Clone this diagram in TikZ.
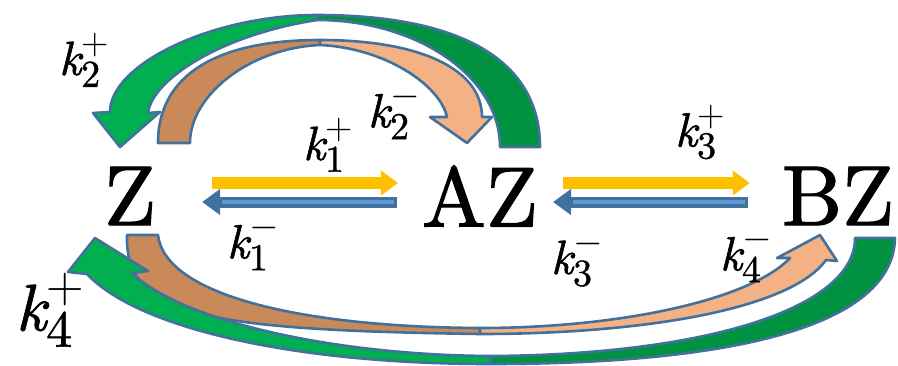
\RequirePackage{fix-cm}
\documentclass[tikz,border=0pt]{standalone}
\usepackage{fontspec}
\usetikzlibrary{arrows.meta,calc}
\newfontfamily\spfont{lmroman10-regular.otf}[FakeBold=1.5]
\newfontfamily\kfont{lmroman10-italic.otf}[FakeBold=1.2]
\newfontfamily\scfont{lmroman10-regular.otf}[FakeBold=1]
\newcommand\rate[3]{$\mbox{\kfont k}^{\mbox{\fontsize{#1}{#1}\scfont$#2$}}_{\mbox{\fontsize{#1}{#1}\scfont #3}}$}
\definecolor{outl}{RGB}{65,113,156}
\definecolor{arrB}{RGB}{91,155,213}
\definecolor{arrY}{RGB}{255,192,0}
\definecolor{glight}{RGB}{0,176,80}
\definecolor{gdark}{RGB}{0,146,64}
\definecolor{obrown}{RGB}{201,137,88}
\definecolor{olight}{RGB}{244,177,131}
\tikzset{
  band/.style={draw=outl, line width=2.6bp, line join=round},
  species/.style={inner sep=0pt, font=\fontsize{85bp}{85bp}\spfont},
  klab/.style={inner sep=0pt, font=\fontsize{48bp}{48bp}\selectfont},
  klabbig/.style={inner sep=0pt, font=\fontsize{66bp}{66bp}\selectfont},
  yarr/.style={draw=arrY, line width=12bp, -{Triangle[length=17bp,width=24bp]}},
  barr/.style={draw=outl, line width=11bp, -{Triangle[length=18bp,width=25bp]}},
  bstripe/.style={draw=arrB, line width=4.5bp},
}
\begin{document}
\begin{tikzpicture}[x=1bp,y=-1bp]
\useasboundingbox (0,0) rectangle (898,365);

% species
\node[species] (Z)  at (130,196) {Z};
\node[species] (AZ) at (480,196) {AZ};
\node[species] (BZ) at (838,196) {BZ};

% top green band (AZ -> Z)
\path[band, fill=gdark] (317,15) .. controls (462,15) and (540,61) .. (540,147)
  -- (500,147) .. controls (500,77) and (418,20) .. (317,20) -- cycle;
\path[band, fill=glight] (317,15) .. controls (213,15) and (110,64) .. (110,112)
  -- (93,113) -- (120,147) -- (160,112) -- (148,113)
  .. controls (152,80) and (220,35) .. (317,20) -- cycle;

% top orange band (Z -> AZ)
\path[band, fill=obrown] (320,40) .. controls (215,40) and (158,76) .. (158,143)
  -- (190,143) .. controls (190,95) and (250,48) .. (320,45) -- cycle;
\path[band, fill=olight] (320,40) .. controls (420,40) and (482,69) .. (482,117)
  -- (492,117) -- (467,143) -- (430,117) -- (447,117)
  .. controls (440,85) and (385,48) .. (320,45) -- cycle;

% bottom orange band (Z -> BZ)
\path[band, fill=obrown] (127,235) .. controls (125,315) and (200,330) .. (480,334)
  -- (480,328) .. controls (300,327) and (165,295) .. (158,235) -- cycle;
\path[band, fill=olight] (480,334) .. controls (640,334) and (790,310) .. (826,260)
  -- (837,261) -- (820,235) -- (777,258) -- (790,258)
  .. controls (750,300) and (620,328) .. (480,328) -- cycle;

% bottom green band (BZ -> Z)
\path[band, fill=gdark] (490,364) .. controls (720,364) and (893,330) .. (895,238)
  -- (855,238) .. controls (855,310) and (700,355) .. (490,356) -- cycle;
\path[band, fill=glight] (490,364) .. controls (300,364) and (140,330) .. (87,274)
  -- (68,272) -- (95,238) -- (148,271) -- (132,273)
  .. controls (180,320) and (330,355) .. (490,356) -- cycle;

% straight arrows
\draw[yarr] ($(Z.east)+(56,-13)$) -- ($(AZ.west)+(-24,-13)$);
\draw[barr] ($(AZ.west)+(-25,6)$) -- ($(Z.east)+(46,6)$);
\draw[bstripe] ($(AZ.west)+(-27.5,6)$) -- ($(Z.east)+(66,6)$);
\draw[yarr] ($(AZ.east)+(25,-13)$) -- ($(BZ.west)+(-32,-13)$);
\draw[barr] ($(BZ.west)+(-34,6)$) -- ($(AZ.east)+(15,6)$);
\draw[bstripe] ($(BZ.west)+(-36.5,6)$) -- ($(AZ.east)+(35,6)$);

% rate labels
\node[klab] (k2p) at (84,60) {\rate{38bp}{+}{2}};
\node[klab] (k2m) at (394,112) {\rate{38bp}{-}{2}};
\node[klab] (k1p) at (328,145) {\rate{38bp}{+}{1}};
\node[klab] (k3p) at (700,132) {\rate{38bp}{+}{3}};
\node[klab] (k1m) at (253,243) {\rate{38bp}{-}{1}};
\node[klab] (k3m) at (577,259) {\rate{38bp}{-}{3}};
\node[klab] (k4m) at (746,255) {\rate{38bp}{-}{4}};
\node[klabbig] (k4p) at (50,310) {\rate{52bp}{+}{4}};
\end{tikzpicture}
\end{document}
